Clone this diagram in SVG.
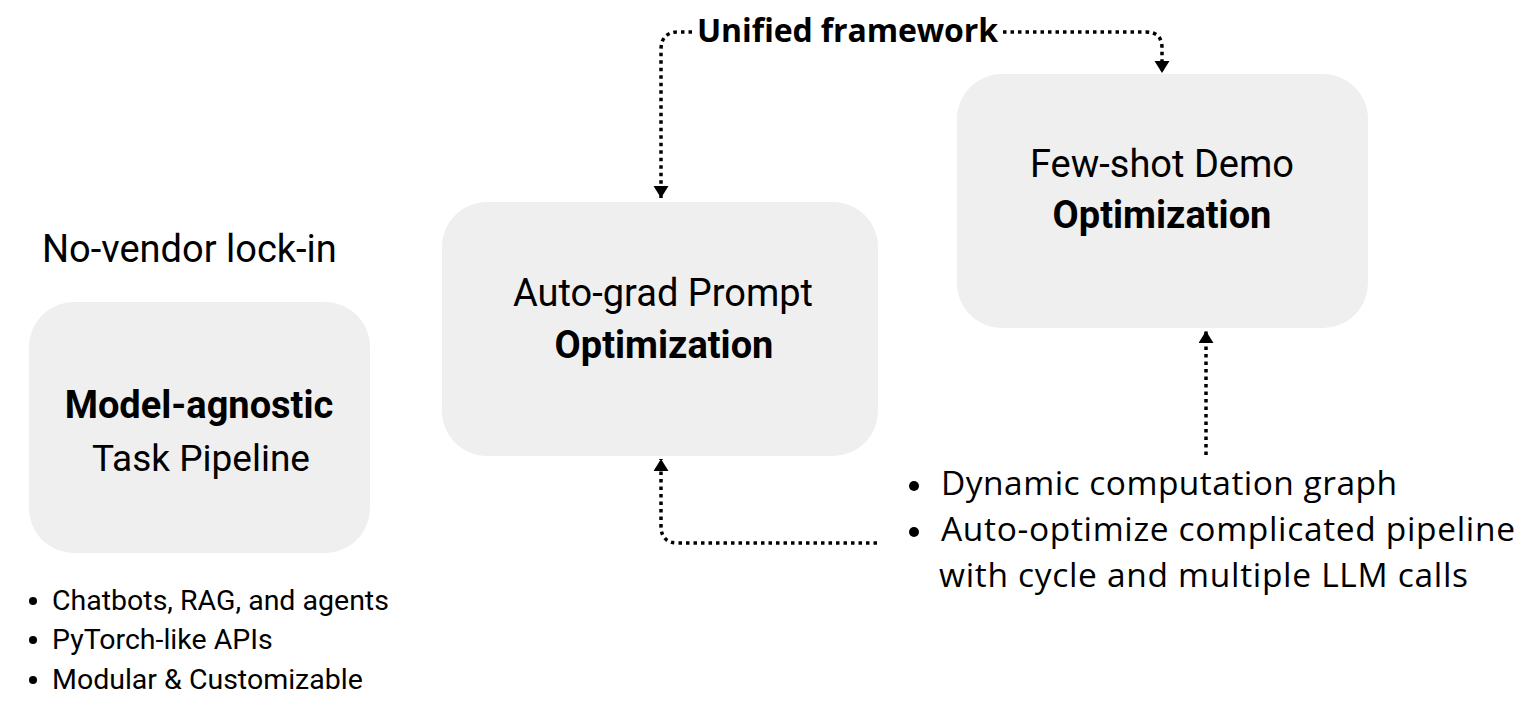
<svg xmlns="http://www.w3.org/2000/svg" width="1522" height="710" viewBox="0 0 1522 710">
<defs>
<style>
.box{fill:#efefef;}
.rb{font-family:Roboto,"Liberation Sans",sans-serif;fill:#000;}
.pl{font-family:"Open Sans","Noto Sans",sans-serif;fill:#000;}
.b{font-weight:bold;}
.con{fill:none;stroke:#000;stroke-width:3.5;stroke-dasharray:3.5 4;}
</style>
<marker id="ah" markerUnits="userSpaceOnUse" markerWidth="16" markerHeight="16" refX="12" refY="7.5" orient="auto">
<path d="M0,0 L12,7.5 L0,15 Z" fill="#000"/>
</marker>
</defs>
<rect width="1522" height="710" fill="#fff"/>

<g id="connectors">
<path class="con" d="M692,32 L678,32 Q661,32 661,50 L661,198" marker-end="url(#ah)"/>
<path class="con" d="M1003,32 L1146,32 Q1162,32 1162,48 L1162,73" marker-end="url(#ah)"/>
<path class="con" d="M877,543 L678,543 Q661,543 661,526 L661,459" marker-end="url(#ah)"/>
<path class="con" d="M1206,455 L1206,331" marker-end="url(#ah)"/>
<text class="pl b" x="697" y="42" font-size="32" textLength="301">Unified framework</text>
</g>

<g id="node-pipeline">
<text class="rb" x="42" y="262" font-size="38">No-vendor lock-in</text>
<rect class="box" x="29" y="302" width="341" height="251" rx="45"/>
<text class="rb b" x="199" y="418" font-size="38" text-anchor="middle">Model-agnostic</text>
<text class="rb" x="201" y="471" font-size="37" text-anchor="middle">Task Pipeline</text>
<circle cx="33" cy="601" r="4"/>
<circle cx="33" cy="640" r="4"/>
<circle cx="33" cy="680" r="4"/>
<text class="rb" x="52" y="610" font-size="28.5">Chatbots, RAG, and agents</text>
<text class="rb" x="52" y="649" font-size="28.5">PyTorch-like APIs</text>
<text class="rb" x="52" y="689" font-size="28.5">Modular &amp; Customizable</text>
</g>

<g id="node-autograd">
<rect class="box" x="442" y="202" width="436" height="254" rx="45"/>
<text class="rb" x="663" y="306" font-size="38" text-anchor="middle">Auto-grad Prompt</text>
<text class="rb b" x="664" y="358" font-size="38" text-anchor="middle">Optimization</text>
</g>

<g id="node-fewshot">
<rect class="box" x="957" y="74" width="411" height="254" rx="45"/>
<text class="rb" x="1162" y="177" font-size="38" text-anchor="middle">Few-shot Demo</text>
<text class="rb b" x="1162" y="228" font-size="38" text-anchor="middle">Optimization</text>
</g>

<g id="notes">
<circle cx="914" cy="486" r="5"/>
<circle cx="914" cy="532" r="5"/>
<text class="pl" x="941" y="495" font-size="33.5" textLength="456">Dynamic computation graph</text>
<text class="pl" x="941" y="541" font-size="33.5" textLength="574">Auto-optimize complicated pipeline</text>
<text class="pl" x="939" y="587" font-size="33.5" textLength="529">with cycle and multiple LLM calls</text>
</g>
</svg>
